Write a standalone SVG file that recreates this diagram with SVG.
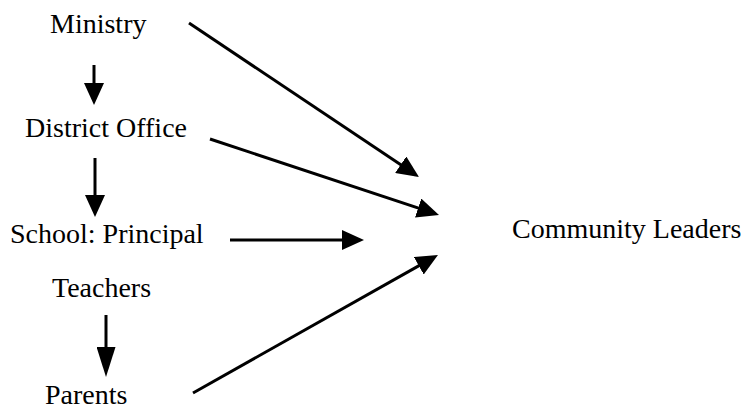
<svg xmlns="http://www.w3.org/2000/svg" width="747" height="409" viewBox="0 0 747 409">
  <style>
    text { font-family: 'Liberation Serif', 'Times New Roman', Times, 'DejaVu Serif', serif; font-size: 28px; fill: #000; }
    .edge { stroke: #000; stroke-width: 3; fill: none; }
  </style>
  <defs>
    <marker id="ah" markerUnits="userSpaceOnUse" markerWidth="22" markerHeight="20" refX="10" refY="10" orient="auto">
      <path d="M0,0 L22,10 L0,20 z" fill="#000"/>
    </marker>
    <marker id="ahL" markerUnits="userSpaceOnUse" markerWidth="30" markerHeight="19" refX="18" refY="9.5" orient="auto">
      <path d="M0,0 L30,9.5 L0,19 z" fill="#000"/>
    </marker>
  </defs>
  <rect width="747" height="409" fill="#fff"/>

  <g id="ministry"><text x="50" y="33">Ministry</text></g>
  <g id="district-office"><text x="25" y="137">District Office</text></g>
  <g id="school-principal"><text x="10" y="243">School: Principal</text></g>
  <g id="teachers"><text x="52" y="297">Teachers</text></g>
  <g id="parents"><text x="45" y="404">Parents</text></g>
  <g id="community-leaders"><text x="512" y="238">Community Leaders</text></g>

  <g id="connectors">
    <line class="edge" x1="94" y1="65" x2="94" y2="93" marker-end="url(#ah)"/>
    <line class="edge" x1="95" y1="158" x2="95" y2="205" marker-end="url(#ah)"/>
    <line class="edge" x1="106" y1="315" x2="106" y2="365" marker-end="url(#ahL)"/>
    <line class="edge" x1="189" y1="23" x2="409" y2="170.3" marker-end="url(#ah)"/>
    <line class="edge" x1="210" y1="139" x2="427.6" y2="211.2" marker-end="url(#ah)"/>
    <line class="edge" x1="230" y1="240" x2="352" y2="240" marker-end="url(#ah)"/>
    <line class="edge" x1="193" y1="393" x2="427.5" y2="260.9" marker-end="url(#ah)"/>
  </g>
</svg>
